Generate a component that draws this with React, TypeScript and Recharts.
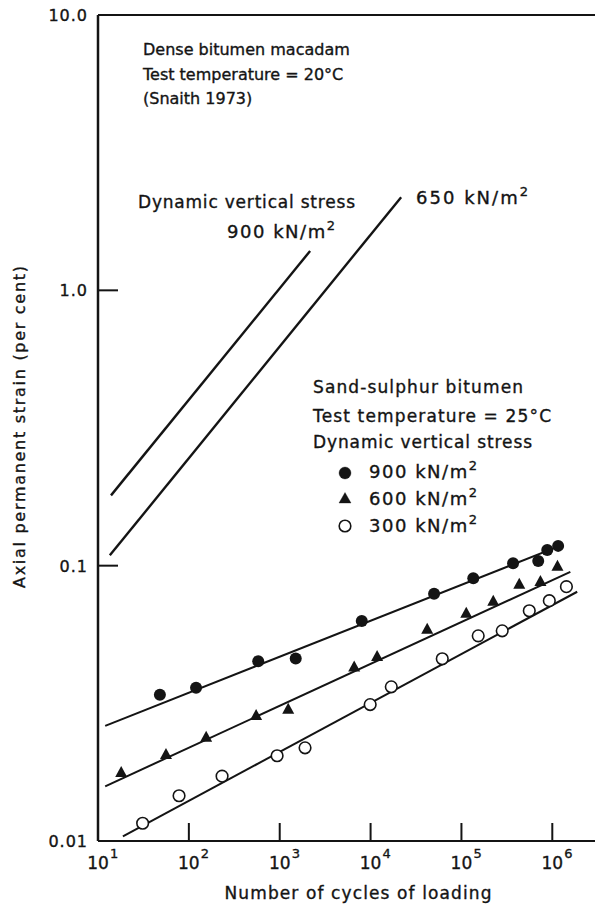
import React from "react";
import { ScatterChart, Scatter, XAxis, YAxis, ReferenceLine } from "recharts";

// axis ticks
const xTicks = [10, 100, 1000, 10000, 100000, 1000000];
const yTicks = [0.01, 0.1, 1, 10];
const yTickLabels = ["0.01", "0.1", "1.0", "10.0"];

// sand-sulphur bitumen, 900 kN/m2 (filled circles)
const cycles900 = [48, 120, 580, 1500, 8000, 50000, 135000, 370000, 700000, 880000, 1160000];
const strain900 = [0.034, 0.036, 0.045, 0.046, 0.063, 0.079, 0.09, 0.102, 0.104, 0.114, 0.118];

// 600 kN/m2 (triangles)
const cycles600 = [18, 56, 155, 550, 1240, 6600, 11800, 42000, 113000, 224000, 433000, 740000, 1140000];
const strain600 = [0.0178, 0.0207, 0.0239, 0.0287, 0.0302, 0.043, 0.047, 0.059, 0.0675, 0.0746, 0.086, 0.088, 0.1];

// 300 kN/m2 (open circles)
const cycles300 = [31, 78, 232, 936, 1900, 9900, 16900, 61500, 153000, 281000, 558000, 927000, 1430000];
const strain300 = [0.0116, 0.0146, 0.0172, 0.0204, 0.0218, 0.0313, 0.0363, 0.0459, 0.0556, 0.058, 0.0686, 0.0746, 0.0839];

// fitted lines
const fitCycles900 = [12, 1290000];
const fitStrain900 = [0.0262, 0.119];
const fitCycles600 = [12, 1580000];
const fitStrain600 = [0.0158, 0.095];
const fitCycles300 = [18.8, 1880000];
const fitStrain300 = [0.0104, 0.0804];

// dense bitumen macadam (Snaith 1973)
const denseCycles900 = [13.9, 2160];
const denseStrain900 = [0.18, 1.39];
const denseCycles650 = [13.5, 21700];
const denseStrain650 = [0.109, 2.18];

const pts = (xs: number[], ys: number[]) => xs.map((x, i) => ({ x, y: ys[i] }));

const INK = "#141414";
const FONT = "DejaVu Sans";
const HEAVY = { stroke: INK, strokeWidth: 0.35 };

function XTick(props: any) {
  const { x, y, payload } = props;
  const exp = Math.round(Math.log10(payload.value));
  return (
    <g>
      {exp > 1 && <line x1={x} y1={y} x2={x} y2={y - 18} stroke={INK} strokeWidth={2} />}
      <text x={x} y={y + 28} textAnchor="middle" fontSize={17} fontFamily={FONT} fill={INK} {...HEAVY}>10</text>
      <text x={x + 12} y={y + 17} fontSize={13} fontFamily={FONT} fill={INK} {...HEAVY}>{exp}</text>
    </g>
  );
}

function YTick(props: any) {
  const { x, y, payload } = props;
  const v = payload.value;
  const label = yTickLabels[yTicks.indexOf(v)];
  return (
    <g>
      {v > 0.01 && v < 10 && <line x1={x} y1={y} x2={x + 20} y2={y} stroke={INK} strokeWidth={2} />}
      <text x={x - 10} y={y + 6} textAnchor="end" fontSize={16} letterSpacing={1} fontFamily={FONT} fill={INK} {...HEAVY}>
        {label}
      </text>
    </g>
  );
}

const Dot = (p: any) => <circle cx={p.cx} cy={p.cy} r={6} fill={INK} />;
const Tri = (p: any) => (
  <polygon points={`${p.cx},${p.cy - 6} ${p.cx + 6},${p.cy + 5} ${p.cx - 6},${p.cy + 5}`} fill={INK} />
);
const Ring = (p: any) => <circle cx={p.cx} cy={p.cy} r={5.8} fill="#fff" stroke={INK} strokeWidth={1.6} />;
const NoDot = () => <g />;

function Stress({ x, y, value, len }: { x: number; y: number; value: string; len?: number }) {
  return (
    <text x={x} y={y} fontSize={18} textLength={len} lengthAdjust="spacing">
      {value} kN/m<tspan dy={-8} fontSize={13}>2</tspan>
    </text>
  );
}

export default function App() {
  return (
    <div style={{ position: "absolute", left: 0, top: 0, width: 595, height: 905, background: "#fff" }}>
      <ScatterChart width={595} height={905} margin={{ top: 15, right: 0, bottom: 24, left: 38 }}>
        <XAxis
          type="number"
          dataKey="x"
          scale="log"
          domain={[10, 2951209]}
          ticks={xTicks}
          interval={0}
          allowDataOverflow
          tick={(p: any) => <XTick {...p} />}
          tickLine={false}
          tickSize={0}
          tickMargin={0}
          axisLine={{ stroke: INK, strokeWidth: 2 }}
          height={40}
        />
        <YAxis
          type="number"
          dataKey="y"
          scale="log"
          domain={[0.01, 10]}
          ticks={yTicks}
          interval={0}
          allowDataOverflow
          tick={(p: any) => <YTick {...p} />}
          tickLine={false}
          tickSize={0}
          tickMargin={0}
          axisLine={{ stroke: INK, strokeWidth: 2.5 }}
          width={60}
        />
        <ReferenceLine y={10} stroke={INK} strokeWidth={2} ifOverflow="visible" />

        <Scatter data={pts(denseCycles900, denseStrain900)} line={{ stroke: INK, strokeWidth: 2.4 }} shape={NoDot} isAnimationActive={false} />
        <Scatter data={pts(denseCycles650, denseStrain650)} line={{ stroke: INK, strokeWidth: 2.4 }} shape={NoDot} isAnimationActive={false} />
        <Scatter data={pts(fitCycles900, fitStrain900)} line={{ stroke: INK, strokeWidth: 2 }} shape={NoDot} isAnimationActive={false} />
        <Scatter data={pts(fitCycles600, fitStrain600)} line={{ stroke: INK, strokeWidth: 2 }} shape={NoDot} isAnimationActive={false} />
        <Scatter data={pts(fitCycles300, fitStrain300)} line={{ stroke: INK, strokeWidth: 2 }} shape={NoDot} isAnimationActive={false} />

        <Scatter data={pts(cycles900, strain900)} shape={Dot} isAnimationActive={false} />
        <Scatter data={pts(cycles600, strain600)} shape={Tri} isAnimationActive={false} />
        <Scatter data={pts(cycles300, strain300)} shape={Ring} isAnimationActive={false} />
      </ScatterChart>

      <svg
        width={595}
        height={905}
        style={{ position: "absolute", left: 0, top: 0, pointerEvents: "none" }}
        fontFamily={FONT}
        fill={INK}
        stroke={INK}
        strokeWidth={0.35}
      >
        <text x={143} y={55} fontSize={16}>Dense bitumen macadam</text>
        <text x={143} y={80} fontSize={16}>Test temperature = 20°C</text>
        <text x={143} y={104} fontSize={16}>(Snaith 1973)</text>

        <text x={138} y={208} fontSize={17} textLength={217} lengthAdjust="spacing">Dynamic vertical stress</text>
        <Stress x={227} y={238} value="900" len={108} />
        <Stress x={416} y={204} value="650" len={112} />

        <text x={313} y={393} fontSize={17} textLength={210} lengthAdjust="spacing">Sand-sulphur bitumen</text>
        <text x={313} y={422} fontSize={17} textLength={238} lengthAdjust="spacing">Test temperature = 25°C</text>
        <text x={313} y={448} fontSize={17} textLength={219} lengthAdjust="spacing">Dynamic vertical stress</text>

        <circle cx={345} cy={473} r={6} fill={INK} />
        <polygon points="345,492.5 351,503 339,503" fill={INK} />
        <circle cx={345} cy={526} r={5.8} fill="#fff" stroke={INK} strokeWidth={1.6} />
        <Stress x={369} y={478} value="900" len={108} />
        <Stress x={369} y={505} value="600" len={108} />
        <Stress x={369} y={532} value="300" len={108} />

        <text x={358} y={899} fontSize={17} textAnchor="middle" textLength={267} lengthAdjust="spacing">
          Number of cycles of loading
        </text>
        <text transform="translate(25,427) rotate(-90)" fontSize={16} textAnchor="middle" textLength={322} lengthAdjust="spacing">
          Axial permanent strain (per cent)
        </text>
      </svg>
    </div>
  );
}
